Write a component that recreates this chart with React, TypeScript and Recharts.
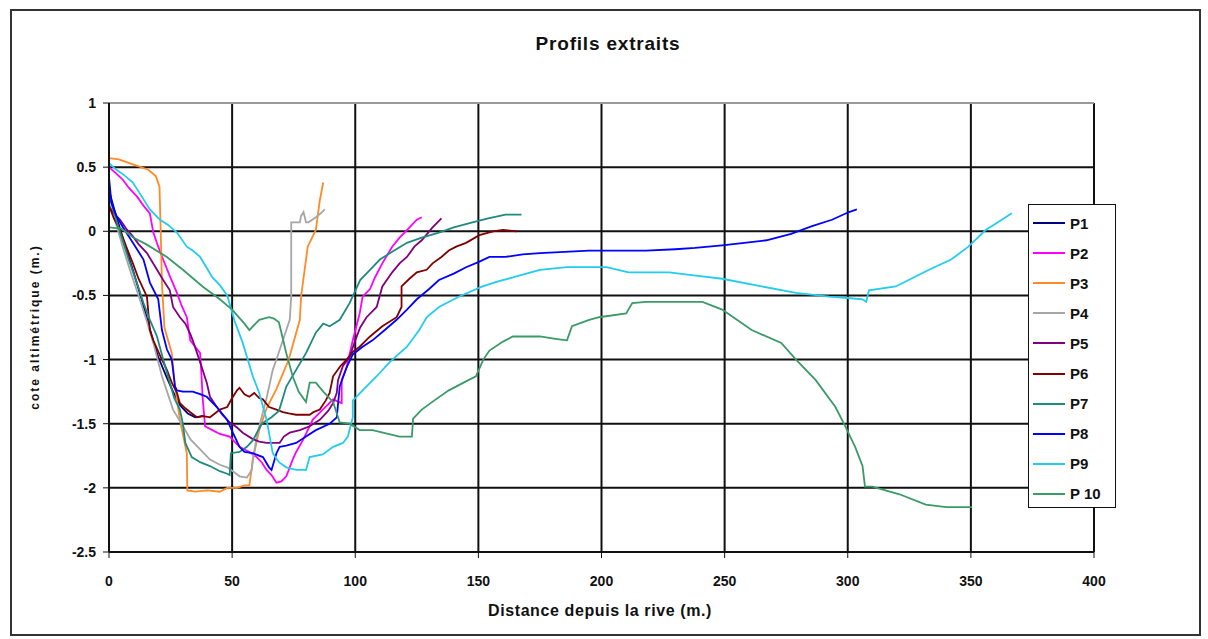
import React from 'react';
import {
  LineChart,
  Line,
  XAxis,
  YAxis,
  CartesianGrid,
  ReferenceLine
} from 'recharts';

// distance (m) / elevation (m) pairs
const p1: [number, number][] = [
  [0, 0.32], [2, 0.18], [4, 0.05], [6, -0.08], [8, -0.2], [10, -0.32], [12, -0.45], [14, -0.58],
  [16, -0.72], [18, -0.86], [20, -0.98], [23, -1.12], [26, -1.25], [29, -1.36], [32, -1.42],
  [35, -1.45], [38, -1.44]
];

const p2: [number, number][] = [
  [0, 0.5], [3, 0.45], [5.7, 0.4], [8, 0.34], [11.4, 0.27], [14, 0.2], [16.6, 0.14], [18, -0.01],
  [20, -0.12], [22, -0.22], [24.7, -0.35], [27.6, -0.48], [29.5, -0.58], [31.6, -0.67], [33, -0.85],
  [35, -0.9], [37, -0.95], [37.5, -1.1], [38, -1.29], [39, -1.52], [42, -1.55], [45, -1.58], [49, -1.6],
  [53, -1.68], [57, -1.72], [60, -1.76], [62, -1.8], [64, -1.86], [66, -1.9], [68, -1.96], [70, -1.95],
  [72, -1.91], [74.6, -1.78], [76, -1.72], [78.7, -1.63], [80, -1.58], [82.7, -1.47], [86.8, -1.39],
  [89, -1.35], [91, -1.31], [94.5, -1.34], [94.5, -1.16], [96.5, -1.06], [99, -0.85], [101.8, -0.64],
  [103, -0.51], [106, -0.45], [108, -0.36], [111, -0.25], [115, -0.12], [118, -0.05], [121, 0.01],
  [125, 0.09], [127, 0.11]
];

const p3: [number, number][] = [
  [0, 0.57], [4, 0.56], [10, 0.52], [16, 0.48], [19, 0.43], [20.5, 0.35], [21, 0], [21.5, -0.4],
  [22.5, -0.75], [25.5, -0.95], [26.8, -1.21], [28.8, -1.47], [31.6, -1.73], [31.8, -2.02], [35, -2.03],
  [40, -2.02], [45, -2.03], [48, -2.0], [52, -2.0], [55, -1.98], [57, -1.98], [58.4, -1.78], [61, -1.55],
  [64, -1.38], [68, -1.23], [73, -1.0], [77.5, -0.69], [78, -0.51], [80.7, -0.12], [84, 0.01],
  [85.6, 0.24], [87, 0.38]
];

const p4: [number, number][] = [
  [0, 0.22], [3, 0.05], [6, -0.15], [9, -0.33], [12, -0.5], [15, -0.68], [18, -0.87], [21.5, -1.13],
  [26, -1.39], [31, -1.55], [33, -1.62], [37, -1.7], [41, -1.78], [45, -1.82], [48, -1.84], [51, -1.88],
  [53, -1.91], [56, -1.92], [58, -1.86], [58.4, -1.78], [60, -1.6], [62.5, -1.41], [64, -1.3],
  [66.5, -1.08], [68, -1.0], [70.6, -0.85], [73.4, -0.69], [74, -0.51], [74, -0.2], [74, 0.07],
  [77.5, 0.07], [78, 0.12], [79, 0.15], [80, 0.07], [81, 0.07], [84, 0.11], [86, 0.14], [87.6, 0.17]
];

const p5: [number, number][] = [
  [0, 0.19], [2, 0.14], [4.5, 0.09], [7, 0.02], [9.7, -0.04], [12, -0.1], [15.4, -0.17], [19.5, -0.3],
  [22, -0.38], [24.7, -0.46], [26, -0.59], [28.8, -0.67], [31, -0.72], [33, -0.8], [34, -0.85],
  [37, -1.02], [39.7, -1.18], [41, -1.29], [43.8, -1.37], [46, -1.43], [49, -1.49], [52, -1.53],
  [54.3, -1.57], [58.4, -1.62], [61, -1.64], [64, -1.65], [69.3, -1.65], [71, -1.6], [73.4, -1.57],
  [77.5, -1.55], [81.5, -1.52], [85.6, -1.47], [89, -1.4], [91, -1.34], [92.5, -1.26], [93, -1.16],
  [95, -1.05], [97.7, -0.98], [100, -0.85], [102, -0.75], [104.6, -0.67], [108.7, -0.59], [111, -0.43],
  [115, -0.32], [118, -0.25], [121, -0.2], [124, -0.12], [127, -0.07], [131.4, 0.03], [135, 0.1]
];

const p6: [number, number][] = [
  [0, 0.2], [2, 0.1], [4.5, 0.01], [7, -0.12], [9.7, -0.25], [12, -0.37], [15.4, -0.51], [16.6, -0.77],
  [18, -0.85], [21, -0.98], [23.5, -1.08], [25.5, -1.18], [27.6, -1.26], [28.8, -1.34], [31, -1.38],
  [33, -1.41], [35.7, -1.45], [38, -1.44], [41, -1.45], [43, -1.42], [45, -1.39], [48, -1.37], [50, -1.3],
  [52, -1.24], [53, -1.22], [55, -1.27], [57, -1.29], [59, -1.26], [61, -1.3], [62.5, -1.31], [65, -1.37],
  [68, -1.39], [70.6, -1.41], [73, -1.42], [76, -1.43], [79, -1.43], [81.5, -1.43], [83, -1.41],
  [85.6, -1.39], [88, -1.32], [89.6, -1.26], [91, -1.13], [94, -1.05], [96.5, -1.0], [99, -0.94],
  [101.8, -0.9], [106, -0.82], [111, -0.74], [116.8, -0.67], [118.8, -0.59], [118.8, -0.43], [122, -0.37],
  [125, -0.32], [129, -0.3], [131.4, -0.25], [135, -0.2], [138, -0.15], [141, -0.12], [145, -0.09],
  [150.4, -0.03], [156, 0.0], [160, 0.01], [165.5, 0.0]
];

const p7: [number, number][] = [
  [0, 0.28], [2, 0.15], [4, 0.02], [6, -0.1], [8, -0.22], [10, -0.33], [12, -0.44], [14, -0.56],
  [16.6, -0.69], [19.5, -0.82], [22, -1.0], [24.7, -1.18], [26.5, -1.3], [28.8, -1.39], [30, -1.5],
  [31, -1.65], [33.6, -1.76], [37, -1.8], [41, -1.83], [45, -1.87], [48, -1.89], [49, -1.9], [49.5, -1.73],
  [53, -1.72], [56, -1.68], [58.4, -1.63], [62, -1.5], [66, -1.45], [69, -1.4], [70.6, -1.3], [72, -1.21],
  [76, -1.08], [80, -0.95], [84, -0.79], [87, -0.72], [89.6, -0.74], [93.7, -0.69], [97.7, -0.56],
  [102, -0.38], [106, -0.3], [110, -0.22], [115, -0.16], [121, -0.09], [127, -0.05], [134, -0.01],
  [140, 0.03], [147.6, 0.07], [154, 0.1], [161, 0.13], [167.5, 0.13]
];

const p8: [number, number][] = [
  [0, 0.42], [1, 0.22], [3, 0.12], [5.7, 0.03], [9.7, -0.09], [14, -0.22], [16.6, -0.4], [20, -0.53],
  [21.5, -0.77], [23.5, -0.92], [25.5, -1.0], [26.8, -1.21], [27.6, -1.24], [30, -1.25], [34, -1.25],
  [37, -1.27], [39.7, -1.29], [43.8, -1.37], [48, -1.47], [50.3, -1.57], [53, -1.68], [55, -1.72],
  [58.4, -1.73], [62.5, -1.76], [65, -1.84], [66, -1.86], [68, -1.73], [69.3, -1.68], [72, -1.67],
  [76, -1.65], [80, -1.6], [84, -1.55], [89.6, -1.5], [92.5, -1.45], [93.7, -1.21], [96.5, -1.06],
  [99, -0.96], [103, -0.9], [107, -0.85], [112, -0.77], [116.8, -0.69], [121, -0.61], [125, -0.53],
  [130, -0.45], [134, -0.38], [140, -0.33], [145, -0.28], [150, -0.24], [154.5, -0.2], [161, -0.2],
  [168, -0.18], [175, -0.17], [185, -0.16], [195, -0.15], [210, -0.15], [218, -0.15], [230, -0.14],
  [238, -0.13], [249, -0.11], [258, -0.09], [267, -0.07], [277, -0.02], [285.5, 0.04], [293.6, 0.09],
  [300.5, 0.15], [303.7, 0.17]
];

const p9: [number, number][] = [
  [0, 0.53], [3, 0.48], [6, 0.44], [9.7, 0.38], [13, 0.28], [16.6, 0.17], [20.7, 0.09], [24, 0.05],
  [27.6, -0.01], [31.6, -0.12], [34, -0.15], [37, -0.2], [42, -0.36], [45, -0.42], [48, -0.5], [51, -0.7],
  [54.3, -0.87], [58.4, -1.13], [61, -1.26], [64, -1.47], [66.5, -1.73], [69, -1.8], [72, -1.84],
  [76, -1.86], [80, -1.86], [81.5, -1.76], [86.8, -1.74], [91, -1.68], [95, -1.65], [97, -1.6], [99, -1.45],
  [99, -1.32], [103, -1.24], [108.7, -1.13], [114, -1.02], [121, -0.9], [126, -0.77], [129, -0.67],
  [134, -0.59], [142, -0.51], [151.7, -0.43], [158, -0.39], [164, -0.36], [175, -0.3], [186, -0.28],
  [202, -0.28], [211, -0.32], [227.5, -0.32], [240, -0.35], [249, -0.37], [265, -0.43], [279, -0.48],
  [292.4, -0.51], [300, -0.52], [306, -0.53], [307.5, -0.55], [308.6, -0.46], [319.5, -0.43], [333, -0.3],
  [342, -0.22], [349, -0.12], [356, 0.01], [361, 0.07], [366.6, 0.14]
];

const p10: [number, number][] = [
  [0, 0.03], [5, 0.02], [10, -0.05], [15, -0.1], [23.5, -0.2], [30, -0.3], [38, -0.43], [45, -0.53],
  [50, -0.61], [55, -0.72], [57, -0.77], [61, -0.69], [65, -0.67], [67, -0.68], [69, -0.71], [72, -0.95],
  [74.6, -1.13], [77, -1.25], [80, -1.33], [81.5, -1.18], [84, -1.18], [87, -1.25], [91, -1.33],
  [93.7, -1.49], [97.7, -1.5], [101.8, -1.55], [107, -1.55], [118, -1.6], [123, -1.6], [123.5, -1.46],
  [127, -1.39], [132, -1.32], [138, -1.24], [144, -1.18], [149, -1.13], [152, -1.0], [154.5, -0.93],
  [160, -0.86], [164, -0.82], [175, -0.82], [182, -0.84], [186, -0.85], [188, -0.74], [195, -0.69],
  [199, -0.67], [210, -0.64], [212.5, -0.56], [218, -0.55], [241, -0.55], [249, -0.61], [261, -0.77],
  [273, -0.87], [279, -1.0], [287, -1.16], [295, -1.37], [299, -1.52], [303, -1.68], [306, -1.83],
  [307, -1.99], [310, -1.99], [321, -2.05], [331.7, -2.13], [340, -2.15], [350.5, -2.15]
];

const seriesNames = ['P1', 'P2', 'P3', 'P4', 'P5', 'P6', 'P7', 'P8', 'P9', 'P 10'];
const seriesColors = ['#000080', '#ff00ff', '#ff8a26', '#a6a6a6', '#800080', '#800000', '#1f8a80', '#0000ff', '#22ccee', '#3a9a68'];
const seriesPoints = [p1, p2, p3, p4, p5, p6, p7, p8, p9, p10];

const xTicks = [0, 50, 100, 150, 200, 250, 300, 350, 400];
const yTicks = [-2.5, -2, -1.5, -1, -0.5, 0, 0.5, 1];

const FONT = '"Liberation Sans", Arial, sans-serif';

const App: React.FC = () => {
  const tickStyle = { fontFamily: FONT, fontSize: 14, fontWeight: 700, fill: '#111' };

  return (
    <div style={{ position: 'absolute', left: 0, top: 0, width: 1208, height: 639, background: '#fff', fontFamily: FONT }}>
      {/* outer frame */}
      <div style={{ position: 'absolute', left: 10, top: 9, width: 1191, height: 627, border: '2px solid #333', boxSizing: 'border-box' }} />

      <LineChart width={1208} height={639} margin={{ top: 103, right: 114, bottom: 57, left: 49 }}>
        <CartesianGrid stroke="#111" strokeWidth={2} />
        <XAxis
          dataKey="x"
          type="number"
          domain={[0, 400]}
          ticks={xTicks}
          height={30}
          tickSize={6}
          tickMargin={18}
          tick={tickStyle}
          axisLine={{ stroke: '#111', strokeWidth: 2 }}
          tickLine={{ stroke: '#111' }}
          allowDataOverflow
        />
        <YAxis
          type="number"
          domain={[-2.5, 1]}
          ticks={yTicks}
          width={60}
          tickSize={6}
          tickMargin={7}
          tick={tickStyle}
          axisLine={{ stroke: '#111', strokeWidth: 2 }}
          tickLine={{ stroke: '#111' }}
          allowDataOverflow
        />
        <ReferenceLine y={1} stroke="#999" strokeWidth={2} />
        {seriesPoints.map((pts, i) => (
          <Line
            key={seriesNames[i]}
            name={seriesNames[i]}
            data={pts.map(([x, y]) => ({ x, y }))}
            dataKey="y"
            type="linear"
            stroke={seriesColors[i]}
            strokeWidth={1.8}
            dot={false}
            activeDot={false}
            isAnimationActive={false}
          />
        ))}
      </LineChart>

      {/* title and axis titles */}
      <div style={{ position: 'absolute', left: 0, width: 1216, top: 33, textAlign: 'center', fontSize: 19, fontWeight: 700, color: '#111', letterSpacing: 0.8 }}>
        Profils extraits
      </div>
      <div style={{ position: 'absolute', left: 0, width: 1200, top: 602, textAlign: 'center', fontSize: 16, fontWeight: 700, color: '#111', letterSpacing: 0.6 }}>
        Distance depuis la rive (m.)
      </div>
      <div
        style={{
          position: 'absolute',
          left: 35,
          top: 327,
          transform: 'translate(-50%, -50%) rotate(-90deg)',
          whiteSpace: 'nowrap',
          fontSize: 12,
          fontWeight: 700,
          color: '#111',
          letterSpacing: 2
        }}
      >
        cote altimétrique (m.)
      </div>

      {/* legend box */}
      <div
        style={{
          position: 'absolute',
          left: 1028,
          top: 204,
          width: 88,
          height: 304,
          border: '1.5px solid #111',
          background: '#fff',
          boxSizing: 'border-box'
        }}
      >
        {seriesNames.map((name, i) => (
          <div
            key={name}
            style={{ position: 'absolute', left: 4, top: 8 + i * 30.1, height: 20, display: 'flex', alignItems: 'center' }}
          >
            <div style={{ width: 32, height: 2, background: seriesColors[i] }} />
            <span style={{ marginLeft: 5, fontSize: 15, fontWeight: 700, color: '#111', whiteSpace: 'pre' }}>{name}</span>
          </div>
        ))}
      </div>
    </div>
  );
};

export default App;
